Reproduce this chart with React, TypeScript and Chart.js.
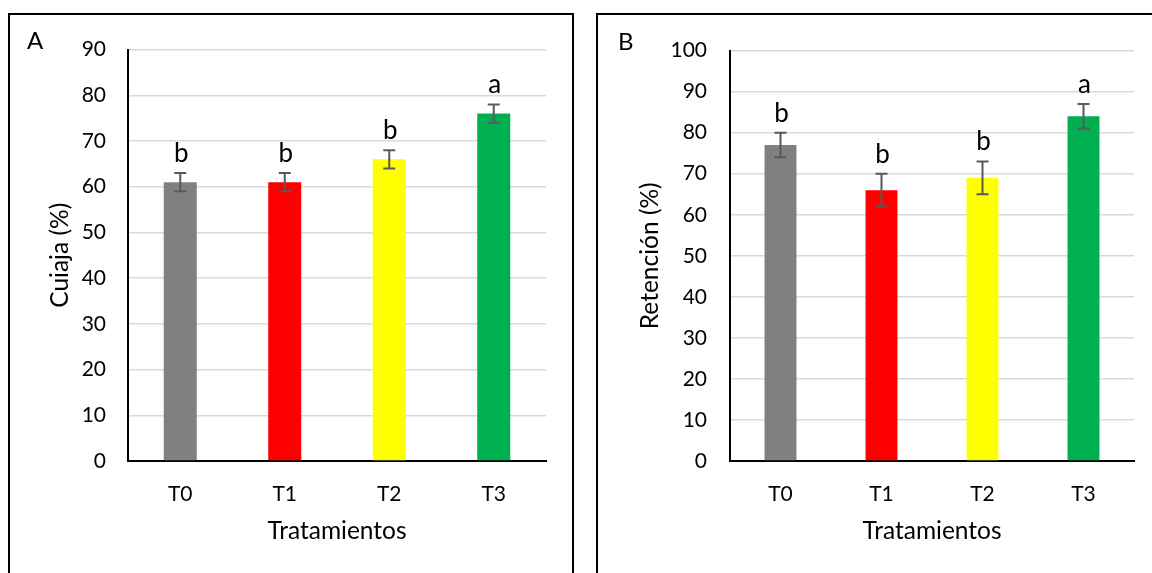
import React, { useEffect, useRef } from "react";
import { Chart, registerables } from "chart.js";

Chart.register(...registerables);

const categories = ["T0", "T1", "T2", "T3"];
const barColors = ["#808080", "#FF0000", "#FFFF00", "#00B050"];

const cuajaValues = [61, 61, 66, 76];
const cuajaErrors = [2, 2, 2, 2];
const cuajaLetters = ["b", "b", "b", "a"];
const cuajaMax = 90;

const retencionValues = [77, 66, 69, 84];
const retencionErrors = [3, 4, 4, 3];
const retencionLetters = ["b", "b", "b", "a"];
const retencionMax = 100;

const FONT = "Lato";

type PanelProps = {
  panel: string;
  yTitle: string;
  values: number[];
  errors: number[];
  letters: string[];
  yMax: number;
  yAxisWidth: number;
  tickPad: number;
  titlePad: number;
  panelX: number;
  panelY: number;
  left: number;
};

function Panel(p: PanelProps) {
  const ref = useRef<HTMLCanvasElement | null>(null);
  useEffect(() => {
    if (!ref.current) return;
    const overlay = {
      id: "errorBars",
      afterDatasetsDraw(chart: any) {
        const { ctx } = chart;
        const y = chart.scales.y;
        const meta = chart.getDatasetMeta(0);
        ctx.save();
        meta.data.forEach((bar: any, i: number) => {
          const v = p.values[i];
          const e = p.errors[i];
          const top = y.getPixelForValue(v + e);
          const bot = y.getPixelForValue(v - e);
          ctx.strokeStyle = "#595959";
          ctx.lineWidth = 2;
          ctx.beginPath();
          ctx.moveTo(bar.x, top);
          ctx.lineTo(bar.x, bot);
          ctx.moveTo(bar.x - 6, top);
          ctx.lineTo(bar.x + 6, top);
          ctx.moveTo(bar.x - 6, bot);
          ctx.lineTo(bar.x + 6, bot);
          ctx.stroke();
          ctx.fillStyle = "#000";
          ctx.font = `26px ${FONT}`;
          ctx.textAlign = "center";
          ctx.textBaseline = "alphabetic";
          ctx.fillText(p.letters[i], bar.x + 1, top - 11);
        });
        ctx.font = `24px ${FONT}`;
        ctx.textAlign = "left";
        ctx.textBaseline = "middle";
        ctx.fillStyle = "#000";
        ctx.fillText(p.panel, p.panelX, p.panelY);
        ctx.restore();
      },
    };
    const chart = new Chart(ref.current, {
      type: "bar",
      data: {
        labels: categories,
        datasets: [
          {
            data: p.values,
            backgroundColor: barColors,
            borderWidth: 0,
            categoryPercentage: 1,
            barPercentage: 0.316,
          },
        ],
      },
      options: {
        responsive: false,
        animation: false,
        devicePixelRatio: 1,
        layout: { padding: { top: 27, left: 0, right: 20, bottom: 14 } },
        plugins: {
          legend: { display: false },
          tooltip: { enabled: false },
        },
        scales: {
          x: {
            z: 1,
            grid: { display: false },
            border: { display: true, color: "#000", width: 2 },
            ticks: {
              color: "#000",
              font: { family: FONT, size: 21 },
              padding: 13,
            },
            title: {
              display: true,
              text: "Tratamientos",
              color: "#000",
              font: { family: FONT, size: 24.5 },
              padding: { top: 0, bottom: 15 },
            },
            afterFit: (s: any) => {
              s.height = 100;
            },
          },
          y: {
            min: 0,
            max: p.yMax,
            grid: { color: "#d9d9d9", lineWidth: 1.5, drawTicks: false },
            border: { display: true, color: "#000", width: 2 },
            ticks: {
              stepSize: 10,
              color: "#000",
              font: { family: FONT, size: 21 },
              padding: p.tickPad,
            },
            title: {
              display: true,
              text: p.yTitle,
              color: "#000",
              font: { family: FONT, size: 24.5 },
              padding: { top: p.titlePad, bottom: 0 },
            },
            afterFit: (s: any) => {
              s.width = p.yAxisWidth;
            },
          },
        },
      },
      plugins: [overlay],
    });
    return () => chart.destroy();
  }, []);

  return (
    <div
      style={{
        position: "absolute",
        left: p.left,
        top: 13,
        width: 566,
        height: 600,
        border: "2px solid #000",
        boxSizing: "border-box",
        background: "#fff",
      }}
    >
      <canvas ref={ref} width={556} height={560} style={{ display: "block" }} />
    </div>
  );
}

export default function App() {
  return (
    <div
      style={{
        position: "fixed",
        left: 0,
        top: 0,
        width: 1152,
        height: 573,
        overflow: "hidden",
        background: "#fff",
      }}
    >
      <Panel
        panel="A"
        yTitle="Cuiaja (%)"
        values={cuajaValues}
        errors={cuajaErrors}
        letters={cuajaLetters}
        yMax={cuajaMax}
        yAxisWidth={118}
        tickPad={22}
        titlePad={35}
        panelX={17}
        panelY={26}
        left={8}
      />
      <Panel
        panel="B"
        yTitle="Retención (%)"
        values={retencionValues}
        errors={retencionErrors}
        letters={retencionLetters}
        yMax={retencionMax}
        yAxisWidth={132}
        tickPad={23}
        titlePad={37}
        panelX={20}
        panelY={27}
        left={596}
      />
    </div>
  );
}
